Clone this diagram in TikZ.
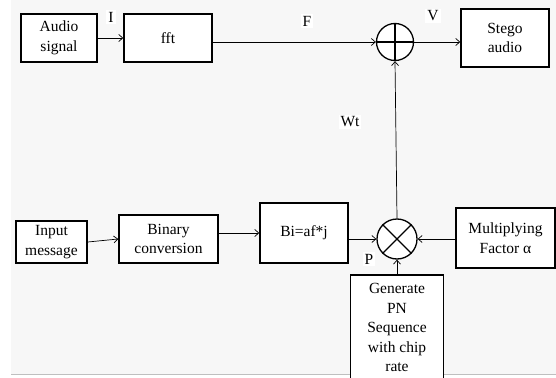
\documentclass[tikz,border=0pt]{standalone}
\usepackage{fontspec}
\setmainfont{Liberation Serif}
\usetikzlibrary{arrows.meta,positioning,calc}

\begin{document}
\begin{tikzpicture}[x=1pt,y=-1pt,font=\fontsize{15.5}{19.5}\selectfont,
  blk/.style={draw,line width=1.5pt,align=center,inner sep=1pt,fill=white},
  opnode/.style={draw,circle,line width=1.3pt,minimum size=#1,inner sep=0pt,fill=white},
  sig/.style={-{Straight Barb[length=4pt,width=7pt]},line width=0.7pt},
  lbl/.style={fill=white,inner sep=2pt}]
\useasboundingbox (0,0) rectangle (556,377);
\fill[black!3] (11,0) rectangle (556,374);
\draw[black!25,line width=1pt] (11,374) -- (556,374);

% upper path
\node[blk,minimum width=76pt,minimum height=48pt] (audio) at (59,38) {Audio\\signal};
\node[blk,minimum width=88pt,minimum height=48pt] (fft) at (168,38) {fft};
\node[opnode=37pt] (add) at (395,42) {};
\draw[line width=1.3pt] (add.north) -- (add.south) (add.west) -- (add.east);
\node[blk,minimum width=88pt,minimum height=58pt] (stego) at (505,38) {Stego\\audio};

% lower path
\node[blk,minimum width=71pt,minimum height=42pt] (input) at (51.5,242) {Input\\message};
\node[blk,minimum width=99pt,minimum height=48pt] (binary) at (168.5,239) {Binary\\conversion};
\node[blk,minimum width=88pt,minimum height=60pt] (spread) at (304,233) {Bi=af*j};
\node[opnode=40pt] (mul) at (397,239) {};
\draw[line width=1.3pt] (mul.north west) -- (mul.south east) (mul.north east) -- (mul.south west);
\node[blk,minimum width=99pt,minimum height=60pt] (factor) at (505.5,238) {Multiplying\\Factor α};
\node[blk,minimum width=93pt,minimum height=106pt,anchor=north] (pn) at (397,274)
  {Generate\\PN\\Sequence\\with chip\\rate};

% connectors
\draw[sig] (audio.east) -- (fft.west);
\draw[sig] (fft.east |- add.west) -- (add.west);
\draw[sig] (add.east) -- (stego.west |- add.east);
\draw[sig] (input.east) -- (binary.west);
\draw[sig] (binary.east |- spread.west) -- (spread.west);
\draw[sig] (spread.east |- mul.west) -- (mul.west);
\draw[sig] (factor.west |- mul.east) -- (mul.east);
\draw[sig] (pn.north) -- (mul.south);
\draw[sig] (mul.north) -- (add.south);

% signal names
\node[lbl] (sigI) at (111,17) {I};
\node[lbl] (sigF) at (307,21) {F};
\node[lbl] (sigV) at (433,16) {V};
\node[lbl] (sigW) at (350,122) {Wt};
\node[lbl] (sigP) at (369,259) {P};
\end{tikzpicture}
\end{document}
